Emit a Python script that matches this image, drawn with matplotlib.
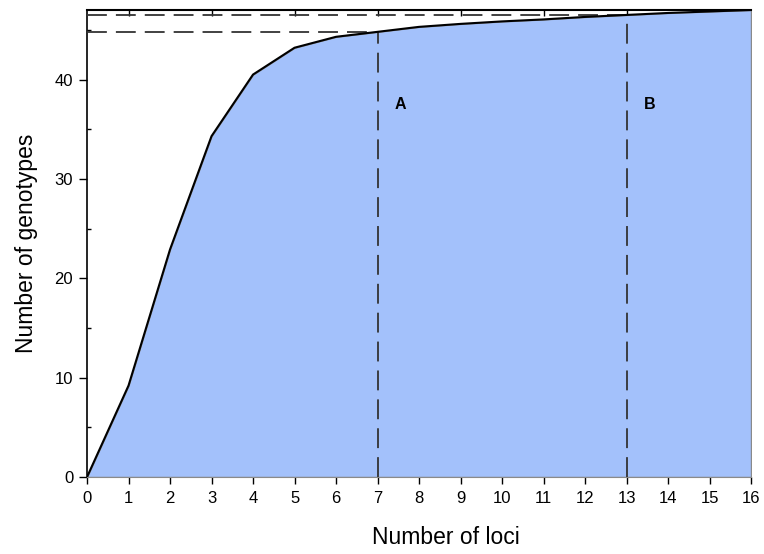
import matplotlib
matplotlib.use("Agg")
import matplotlib.pyplot as plt
import numpy as np

plt.rcParams['font.family'] = ['Liberation Sans', 'DejaVu Sans']

# Cumulative number of distinct genotypes resolved by number of loci
loci = [0, 1, 2, 3, 4, 5, 6, 7, 8, 9, 10, 11, 12, 13, 14, 15, 16]
genotypes = [0, 9.2, 22.9, 34.3, 40.5, 43.2, 44.3, 44.8, 45.3, 45.6, 45.85,
             46.05, 46.3, 46.5, 46.7, 46.85, 47.0]

# Reference cut-offs (loci, genotypes) marked A and B
marks = ["A", "B"]
mark_loci = [7, 13]
mark_geno = [44.8, 46.5]

fig = plt.figure(figsize=(7.64, 5.54), dpi=100)
ax = fig.add_axes([0.1139, 0.1390, 0.8691, 0.8430])

ax.fill_between(loci, genotypes, 0, facecolor='#a3c1fb', edgecolor='#8a8a8a',
                linewidth=1.0, zorder=1)
ax.plot(loci, genotypes, color='black', linewidth=1.5, zorder=4)

dash = (0, (11, 5))
for lab, xl, yl in zip(marks, mark_loci, mark_geno):
    ax.plot([0, xl], [yl, yl], color='#333333', linewidth=1.3, linestyle=dash,
            zorder=3)
    ax.plot([xl, xl], [0, yl], color='#333333', linewidth=1.3, linestyle=dash,
            zorder=3)
    ax.text(xl + 0.42, 37.5, lab, fontsize=11.5, fontweight='bold',
            ha='left', va='center', zorder=5)

ax.set_xlim(0, 16)
ax.set_ylim(0, 47)

ax.set_xticks(loci)
ax.set_yticks([0, 10, 20, 30, 40])
ax.set_yticks([5, 15, 25, 35, 45], minor=True)
ax.tick_params(axis='x', which='major', direction='out', length=5, width=1,
               labelsize=12, pad=5)
ax.tick_params(axis='y', which='major', direction='out', length=6, width=1,
               labelsize=12, pad=4)
ax.tick_params(axis='y', which='minor', direction='in', length=3, width=1)

# Odd-valued ticks along the top frame, pointing inward
top = ax.secondary_xaxis('top')
top.set_xticks([1, 3, 5, 7, 9, 11, 13, 15])
top.tick_params(direction='in', length=4, width=1, labeltop=False)
top.spines['top'].set_visible(False)

ax.spines['right'].set_visible(False)
ax.spines['bottom'].set_color('#8a8a8a')
ax.spines['top'].set_linewidth(1.5)
ax.spines['left'].set_linewidth(1.2)

ax.set_xlabel('Number of loci', fontsize=16.5)
ax.xaxis.set_label_coords(0.54, -0.105)
ax.set_ylabel('Number of genotypes', fontsize=16.5, labelpad=12)

fig.savefig('out.png', dpi=100)
